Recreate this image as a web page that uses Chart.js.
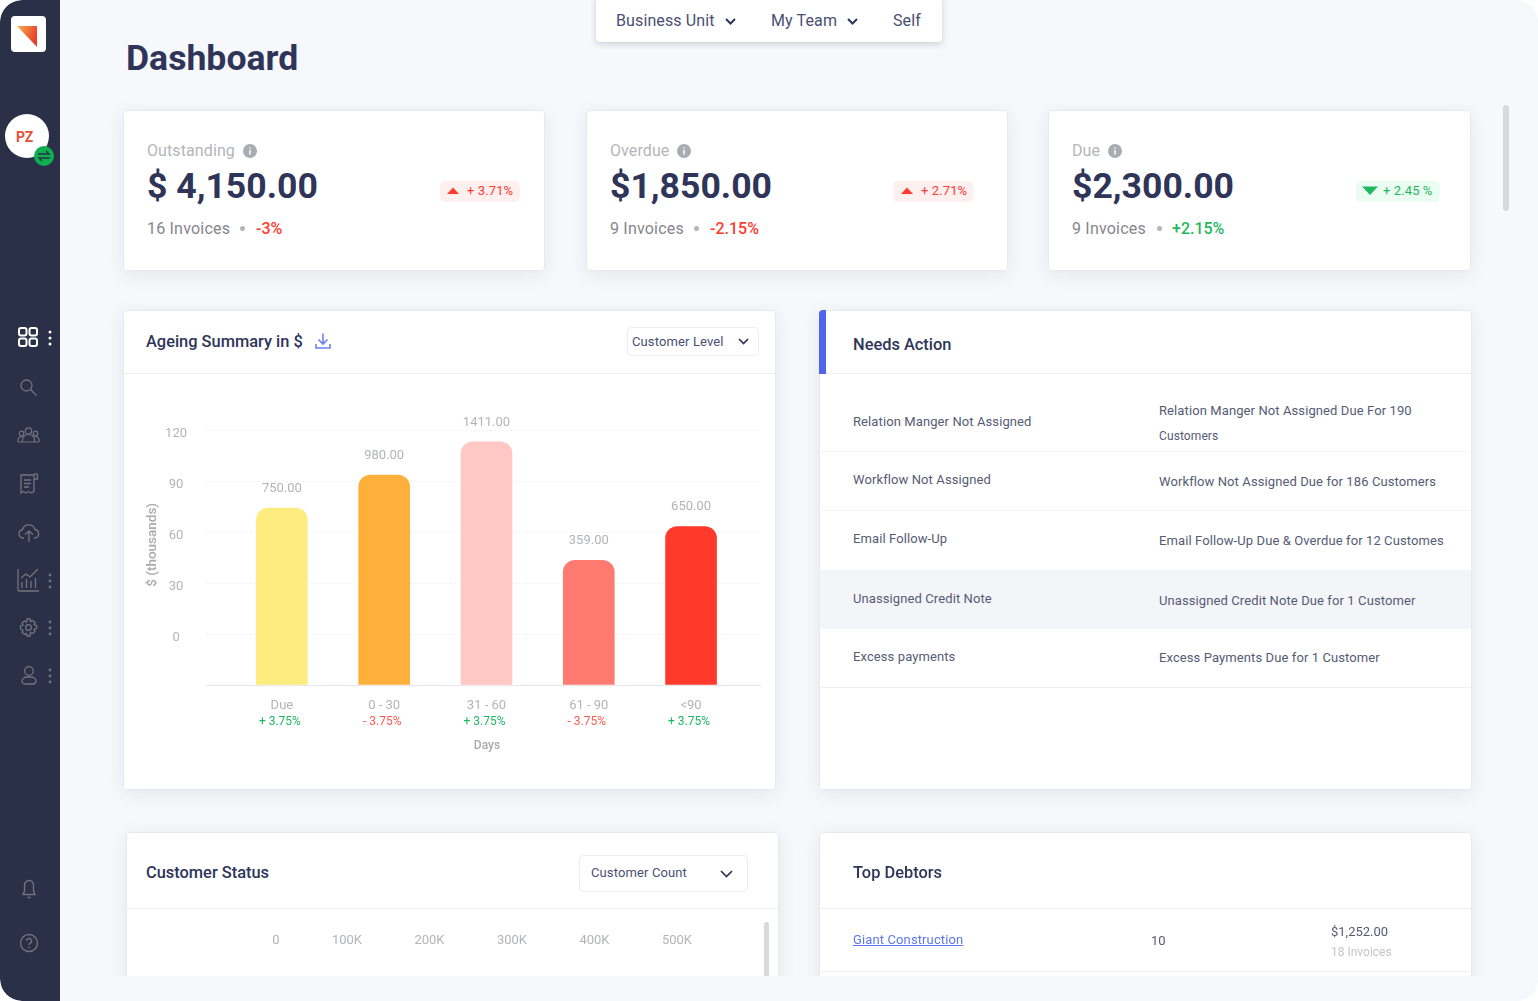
<!DOCTYPE html>
<html><head><meta charset="utf-8">
<script src="https://cdn.jsdelivr.net/npm/chart.js@4"></script>
<style>
html,body{margin:0;padding:0;background:#fff;overflow:hidden}
body{width:1538px;height:1001px;font-family:Roboto,sans-serif}
#page{position:absolute;left:0;top:0;width:1538px;height:1001px;background:#F7F8FB;border-radius:22px;overflow:hidden;filter:blur(.3px)}
#side{position:absolute;left:0;top:0;width:60px;height:1001px;background:#2A3047;border-radius:22px 0 0 22px;z-index:3}
#strip{position:absolute;left:60px;top:976px;width:1478px;height:25px;background:#F7F8FB;z-index:2}
.card{position:absolute;background:#fff;border-radius:4px;box-shadow:0 4px 18px rgba(50,55,90,.09);outline:1px solid #E8E9F0;outline-offset:-1px;overflow:hidden}
.t{position:absolute;white-space:nowrap;line-height:20px;margin-top:-10px}
.line{position:absolute;height:1px;background:#ECEDF2}
.h{font-weight:500;font-size:16.4px;color:#2E3559}
.big{font-weight:700;font-size:35.6px;color:#2E3559;line-height:40px;margin-top:-20px}
.lab{font-size:16px;color:#B4B5BA;letter-spacing:.1px}
.inv{font-size:16px;color:#85868C;letter-spacing:.2px}
.red{color:#FF3B30}.grn{color:#1FB860}
.pct{font-size:16px;font-weight:500}
.badge{position:absolute;height:21px;border-radius:5px}
.bt{font-size:13px;letter-spacing:.1px}
.dot{position:absolute;width:5px;height:5px;border-radius:50%;background:#B4B5BA}
.row{font-size:13px;color:#565B75;letter-spacing:.1px}
.sel{position:absolute;background:#fff;border:1px solid #ECEDF3;border-radius:4px;box-sizing:border-box}
.nav{font-size:16px;color:#4A4F72;letter-spacing:.12px}
svg{position:absolute;overflow:visible}
canvas{position:absolute;display:block}
</style></head>
<body>
<div id="page">
  <div id="strip"></div>

  <div class="t" style="left:126px;top:58px;font-size:35.6px;font-weight:700;color:#2E3559;line-height:40px;margin-top:-20px">Dashboard</div>

  <!-- top tabs -->
  <div style="position:absolute;left:596px;top:-4px;width:346px;height:46px;background:#fff;border-radius:4px;box-shadow:0 2px 6px rgba(50,55,90,.22)"></div>
  <div class="t nav" style="left:616px;top:21px">Business Unit</div>
  <svg style="left:725px;top:18px" width="11" height="7"><path d="M1 1l4.500 4.500L10 1" fill="none" stroke="#2E3559" stroke-width="2"/></svg>
  <div class="t nav" style="left:771px;top:21px">My Team</div>
  <svg style="left:847px;top:18px" width="11" height="7"><path d="M1 1l4.500 4.500L10 1" fill="none" stroke="#2E3559" stroke-width="2"/></svg>
  <div class="t nav" style="left:893px;top:21px">Self</div>

  <!-- scrollbar -->
  <div style="position:absolute;left:1503px;top:105px;width:6px;height:106px;border-radius:3px;background:#D8D9DC"></div>

  <!-- KPI cards -->
  <div class="card" style="left:123px;top:110px;width:422px;height:161px"></div>
  <div class="t lab" style="left:147px;top:151px">Outstanding</div>
  <svg style="left:243px;top:144px" width="14" height="14"><circle cx="7" cy="7" r="7" fill="#ABACB1"/><path d="M7 6v4.500M7 3.500v1.200" stroke="#fff" stroke-width="1.500"/></svg>
  <div class="t big" style="left:147px;top:186px">$ 4,150.00</div>
  <div class="badge" style="left:440px;top:181px;width:80px;background:#FFF0F0"></div>
  <svg style="left:447px;top:187px" width="12" height="8"><path d="M0 7L6 0.500 12 7z" fill="#FF3B30"/></svg>
  <div class="t bt red" style="left:467px;top:191px">+ 3.71%</div>
  <div class="t inv" style="left:147px;top:229px">16 Invoices</div>
  <div class="dot" style="left:240px;top:226px"></div>
  <div class="t pct red" style="left:256px;top:229px">-3%</div>

  <div class="card" style="left:586px;top:110px;width:422px;height:161px"></div>
  <div class="t lab" style="left:610px;top:151px">Overdue</div>
  <svg style="left:677px;top:144px" width="14" height="14"><circle cx="7" cy="7" r="7" fill="#ABACB1"/><path d="M7 6v4.500M7 3.500v1.200" stroke="#fff" stroke-width="1.500"/></svg>
  <div class="t big" style="left:610px;top:186px">$1,850.00</div>
  <div class="badge" style="left:893px;top:181px;width:80px;background:#FFF0F0"></div>
  <svg style="left:901px;top:187px" width="12" height="8"><path d="M0 7L6 0.500 12 7z" fill="#FF3B30"/></svg>
  <div class="t bt red" style="left:921px;top:191px">+ 2.71%</div>
  <div class="t inv" style="left:610px;top:229px">9 Invoices</div>
  <div class="dot" style="left:694px;top:226px"></div>
  <div class="t pct red" style="left:710px;top:229px">-2.15%</div>

  <div class="card" style="left:1048px;top:110px;width:423px;height:161px"></div>
  <div class="t lab" style="left:1072px;top:151px">Due</div>
  <svg style="left:1108px;top:144px" width="14" height="14"><circle cx="7" cy="7" r="7" fill="#ABACB1"/><path d="M7 6v4.500M7 3.500v1.200" stroke="#fff" stroke-width="1.500"/></svg>
  <div class="t big" style="left:1072px;top:186px">$2,300.00</div>
  <div class="badge" style="left:1356px;top:181px;width:84px;background:#EBFCF2"></div>
  <svg style="left:1362px;top:186px" width="16" height="9"><path d="M0 0.500H16L8 9z" fill="#1FB860"/></svg>
  <div class="t bt grn" style="left:1383px;top:191px">+ 2.45 %</div>
  <div class="t inv" style="left:1072px;top:229px">9 Invoices</div>
  <div class="dot" style="left:1157px;top:226px"></div>
  <div class="t pct grn" style="left:1172px;top:229px">+2.15%</div>

  <!-- Ageing card -->
  <div class="card" style="left:123px;top:310px;width:653px;height:480px"></div>
  <div class="t h" style="left:146px;top:342px">Ageing Summary in $</div>
  <svg style="left:315px;top:333px" width="16" height="16"><path d="M8 0.500v10M3.500 6.500L8 11l4.500-4.500M1 11v4h14v-4" fill="none" stroke="#6C83F0" stroke-width="1.600"/></svg>
  <div class="sel" style="left:627px;top:327px;width:132px;height:29px"></div>
  <div class="t" style="left:632px;top:342px;font-size:13px;letter-spacing:.12px;color:#4A4F72">Customer Level</div>
  <svg style="left:738px;top:338px" width="11" height="7"><path d="M1 1l4.500 4.500L10 1" fill="none" stroke="#2E3559" stroke-width="1.700"/></svg>
  <div class="line" style="left:124px;top:373px;width:651px"></div>
  <canvas id="ageing" width="650" height="410" style="left:124px;top:375px;width:650px;height:410px"></canvas>

  <!-- Needs Action -->
  <div class="card" style="left:819px;top:310px;width:653px;height:480px"></div>
  <div style="position:absolute;left:819px;top:310px;width:7px;height:64px;background:#4F66E8;border-radius:4px 0 0 0"></div>
  <div class="t h" style="left:853px;top:345px">Needs Action</div>
  <div class="line" style="left:826px;top:373px;width:646px"></div>
  <div style="position:absolute;left:820px;top:570px;width:651px;height:59px;background:#F4F5F9"></div>
  <div class="line" style="left:820px;top:451px;width:651px;background:#F5F5F8"></div>
  <div class="line" style="left:820px;top:510px;width:651px;background:#F5F5F8"></div>
  <div class="line" style="left:820px;top:687px;width:651px;background:#F0F0F4"></div>
  <div class="t row" style="left:853px;top:422px">Relation Manger Not Assigned</div>
  <div class="t row" style="left:853px;top:480px">Workflow Not Assigned</div>
  <div class="t row" style="left:853px;top:539px">Email Follow-Up</div>
  <div class="t row" style="left:853px;top:599px">Unassigned Credit Note</div>
  <div class="t row" style="left:853px;top:657px">Excess payments</div>
  <div class="t row" style="left:1159px;top:411px">Relation Manger Not Assigned Due For 190</div>
  <div class="t row" style="left:1159px;top:436px;font-size:12px">Customers</div>
  <div class="t row" style="left:1159px;top:482px">Workflow Not Assigned Due for 186 Customers</div>
  <div class="t row" style="left:1159px;top:541px">Email Follow-Up Due &amp; Overdue for 12 Customes</div>
  <div class="t row" style="left:1159px;top:601px">Unassigned Credit Note Due for 1 Customer</div>
  <div class="t row" style="left:1159px;top:658px">Excess Payments Due for 1 Customer</div>

  <!-- Customer Status -->
  <div class="card" style="left:126px;top:832px;width:653px;height:160px"></div>
  <div class="t h" style="left:146px;top:873px">Customer Status</div>
  <div class="sel" style="left:579px;top:855px;width:169px;height:37px"></div>
  <div class="t" style="left:591px;top:873px;font-size:13px;letter-spacing:.12px;color:#4A4F72">Customer Count</div>
  <svg style="left:720px;top:870px" width="13" height="8"><path d="M1 1l5.500 5.500L12 1" fill="none" stroke="#2E3559" stroke-width="1.700"/></svg>
  <div class="line" style="left:127px;top:908px;width:651px"></div>
  <canvas id="status" width="630" height="110" style="left:127px;top:916px;width:630px;height:110px"></canvas>
  <div style="position:absolute;left:764px;top:922px;width:5px;height:70px;border-radius:3px;background:#D8D9DC"></div>

  <!-- Top Debtors -->
  <div class="card" style="left:819px;top:832px;width:653px;height:160px"></div>
  <div class="t h" style="left:853px;top:873px">Top Debtors</div>
  <div class="line" style="left:820px;top:908px;width:651px"></div>
  <div class="t" style="left:853px;top:940px;font-size:13px;letter-spacing:.12px;color:#5B78F0;text-decoration:underline">Giant Construction</div>
  <div class="t" style="left:1151px;top:941px;font-size:13px;color:#565B75">10</div>
  <div class="t" style="left:1331px;top:932px;font-size:13px;color:#565B75">$1,252.00</div>
  <div class="t" style="left:1331px;top:952px;font-size:12px;color:#C5C6CB">18 Invoices</div>
  <div class="line" style="left:820px;top:971px;width:648px"></div>

  <!-- Sidebar -->
  <div id="side"></div>
  <div style="position:absolute;z-index:4;left:0;top:0;width:60px;height:1001px">
    <div style="position:absolute;left:11px;top:16px;width:35px;height:36px;background:#fff;border-radius:4px"></div>
    <svg style="left:17px;top:26px" width="20" height="21"><defs><linearGradient id="lg" x1="0" y1="0" x2="1" y2="0.400"><stop offset="0" stop-color="#F6B24A"/><stop offset="1" stop-color="#E8402C"/></linearGradient></defs><path d="M0 0H20V21z" fill="url(#lg)"/></svg>
    <div style="position:absolute;left:5px;top:114px;width:44px;height:44px;background:#fff;border-radius:50%"></div>
    <div class="t" style="left:16px;top:137px;font-size:14px;font-weight:700;color:#E8503A">PZ</div>
    <svg style="left:34px;top:146px" width="20" height="20"><circle cx="10" cy="10" r="10" fill="#11AE50"/><path d="M4 8h11l-3-3M16 12H5l3 3" fill="none" stroke="#2A3047" stroke-width="1.300"/></svg>
    <!-- nav icons -->
    <svg style="left:18px;top:327px" width="20" height="20" fill="none" stroke="#fff" stroke-width="2"><rect x="1" y="1" width="7.500" height="7.500" rx="2"/><rect x="11.500" y="1" width="7.500" height="7.500" rx="2"/><rect x="1" y="11.500" width="7.500" height="7.500" rx="2"/><rect x="11.500" y="11.500" width="7.500" height="7.500" rx="2"/></svg>
    <svg style="left:48px;top:330px" width="4" height="16" fill="#fff"><circle cx="2" cy="2" r="1.500"/><circle cx="2" cy="8" r="1.500"/><circle cx="2" cy="14" r="1.500"/></svg>
    <svg style="left:20px;top:379px" width="17" height="17" fill="none" stroke="#71757F" stroke-width="1.300"><circle cx="6.500" cy="6.500" r="5.500"/><path d="M10.500 10.500l6 6"/></svg>
    <svg style="left:17px;top:427px" width="23" height="16" fill="none" stroke="#71757F" stroke-width="1.200"><circle cx="11.500" cy="4" r="3.200"/><circle cx="4.500" cy="6.500" r="2.300"/><circle cx="18.500" cy="6.500" r="2.300"/><path d="M5.500 15v-2.500a6 5 0 0 1 12 0V15zM1 15v-2.500a3.500 3.500 0 0 1 4-3M22 15v-2.500a3.500 3.500 0 0 0-4-3M1 15h21"/></svg>
    <svg style="left:20px;top:474px" width="18" height="20" fill="none" stroke="#71757F" stroke-width="1.300"><path d="M14 1H1v18l2.500-1.500 2.500 1.500 2.500-1.500 2.500 1.500 3-1.500V1a1.800 1.800 0 0 1 3.500 0v4h-3.500"/><path d="M4 6h7M4 9.500h7M4 13h5"/></svg>
    <svg style="left:18px;top:523px" width="22" height="19" fill="none" stroke="#71757F" stroke-width="1.300"><path d="M6 15H5a4.300 4.300 0 0 1-.5-8.500 6.500 6.500 0 0 1 12.500 0A4.300 4.300 0 0 1 17 15h-1"/><path d="M11 19V8M7 11.500L11 8l4 3.500"/></svg>
    <svg style="left:17px;top:568px" width="23" height="24" fill="none" stroke="#71757F" stroke-width="1.300"><path d="M1 1v21a1 1 0 0 0 1 1h20"/><path d="M5 20v-6M9.500 20v-9M14 20v-7M18.500 20V10M4 10l5-4 4 3 8-8"/></svg>
    <svg style="left:48px;top:573px" width="4" height="16" fill="#71757F"><circle cx="2" cy="2" r="1.400"/><circle cx="2" cy="8" r="1.400"/><circle cx="2" cy="14" r="1.400"/></svg>
    <svg style="left:19px;top:618px" width="19" height="19" fill="none" stroke="#71757F" stroke-width="1.300"><path d="M8 1h3l.5 2.500 2-1 2.500 2-1 2 2.500 1v3l-2.500 1 1 2-2.500 2-2-1L11 18H8l-.5-2.500-2 1-2.500-2 1-2L1.500 11V8L4 7 3 5l2.500-2 2 1z"/><circle cx="9.500" cy="9.500" r="2.800"/></svg>
    <svg style="left:48px;top:620px" width="4" height="16" fill="#71757F"><circle cx="2" cy="2" r="1.400"/><circle cx="2" cy="8" r="1.400"/><circle cx="2" cy="14" r="1.400"/></svg>
    <svg style="left:21px;top:666px" width="16" height="19" fill="none" stroke="#71757F" stroke-width="1.300"><circle cx="8" cy="5" r="4.300"/><path d="M1 15a5 4 0 0 1 5-4h4a5 4 0 0 1 5 4 3 3 0 0 1-3 3H4a3 3 0 0 1-3-3z"/></svg>
    <svg style="left:48px;top:668px" width="4" height="16" fill="#71757F"><circle cx="2" cy="2" r="1.400"/><circle cx="2" cy="8" r="1.400"/><circle cx="2" cy="14" r="1.400"/></svg>
    <svg style="left:22px;top:879px" width="14" height="20" fill="none" stroke="#71757F" stroke-width="1.400"><path d="M7 1.500a4.500 4.500 0 0 0-4.500 4.500v6L1 15.500h12L11.500 12V6A4.500 4.500 0 0 0 7 1.500zM5.500 18.500h3"/></svg>
    <svg style="left:20px;top:934px" width="18" height="18" fill="none" stroke="#71757F" stroke-width="1.300"><circle cx="9" cy="9" r="8.500"/><path d="M6.500 7a2.500 2.500 0 1 1 3.500 2.300c-.7.300-1 .8-1 1.700M9 12.800v1.400"/></svg>
  </div>
</div>

<script>
const categories   = ['Due', '0 - 30', '31 - 60', '61 - 90', '<90'];
const barHeights   = [74.3, 93.8, 113.4, 43.5, 63.5];
const valueLabels  = ['750.00', '980.00', '1411.00', '359.00', '650.00'];
const deltaLabels  = ['+ 3.75%', '- 3.75%', '+ 3.75%', '- 3.75%', '+ 3.75%'];
const deltaColors  = ['#1FB860', '#FF5A50', '#1FB860', '#FF5A50', '#1FB860'];
const barColors    = ['#FFEC80', '#FFB03A', '#FFC8C4', '#FF7A70', '#FF392B'];
const yTickValues  = [-30, 0, 30, 60, 90, 120];
const statusTicks  = [0, 100000, 200000, 300000, 400000, 500000];

const GREY = '#B3B4B8';

function nudgeTitle(scale, dx, dy) {
  const orig = scale.drawTitle;
  scale.drawTitle = function () {
    const c = this.ctx;
    c.save();
    c.translate(dx, dy);
    orig.call(this);
    c.restore();
  };
}

const barLabels = {
  id: 'barLabels',
  afterLayout(chart) {
    nudgeTitle(chart.scales.y, 0, -13);
    nudgeTitle(chart.scales.x, 4, 0);
  },
  afterDatasetsDraw(chart) {
    const { ctx, scales } = chart;
    const meta = chart.getDatasetMeta(0);
    ctx.save();
    ctx.textAlign = 'center';
    ctx.textBaseline = 'middle';
    meta.data.forEach((bar, i) => {
      ctx.font = '13px Roboto';
      ctx.fillStyle = GREY;
      ctx.fillText(valueLabels[i], bar.x, bar.y - 19.5);
      ctx.font = '12px Roboto';
      ctx.fillStyle = deltaColors[i];
      ctx.fillText(deltaLabels[i], scales.x.getPixelForValue(i) - 2, scales.y.bottom + 36.5);
    });
    ctx.restore();
  }
};

new Chart(document.getElementById('ageing'), {
  type: 'bar',
  data: {
    labels: categories,
    datasets: [{
      data: categories.map((c, i) => ({ x: i, y: barHeights[i] })),
      backgroundColor: barColors,
      base: -30,
      barThickness: 51,
      borderRadius: { topLeft: 12, topRight: 12, bottomLeft: 0, bottomRight: 0 },
      borderSkipped: false
    }]
  },
  plugins: [barLabels],
  options: {
    responsive: false,
    animation: false,
    layout: { padding: { left: 20.5, right: 14, top: 55.7, bottom: 32 } },
    plugins: { legend: { display: false }, tooltip: { enabled: false } },
    scales: {
      x: {
        type: 'linear',
        offset: false,
        min: -0.742,
        max: 4.674,
        afterBuildTicks(s) { s.ticks = categories.map((c, i) => ({ value: i })); },
        afterFit(s) { s.height = 68; },
        grid: { display: false },
        border: { color: '#E6E6EC' },
        ticks: {
          autoSkip: false, maxRotation: 0, padding: 5,
          color: GREY, font: { family: 'Roboto', size: 13 },
          callback: v => categories[v]
        },
        title: { display: true, text: 'Days', color: '#A8A9AE', font: { family: 'Roboto', size: 12, weight: '500' }, padding: { top: 0, bottom: 0 } }
      },
      y: {
        min: -30,
        max: 120,
        afterBuildTicks(s) { s.ticks = yTickValues.map(v => ({ value: v })); },
        afterFit(s) { s.width = 61.5; },
        grid: {
          drawTicks: false,
          color: c => c.tick && c.tick.value === -30 ? 'rgba(0,0,0,0)' : '#F1F1F4'
        },
        border: { display: false, dash: [2, 2] },
        ticks: {
          padding: 19, crossAlign: 'center', labelOffset: 3.500,
          color: GREY, font: { family: 'Roboto', size: 13 },
          callback: v => v === -30 ? '' : String(v)
        },
        title: { display: true, text: '$ (thousands)', color: '#A8A9AE', font: { family: 'Roboto', size: 13.5, weight: '500' }, padding: 0 }
      }
    }
  }
});

const fmtK = v => v === 0 ? '0' : (v / 1000) + 'K';
new Chart(document.getElementById('status'), {
  type: 'bar',
  data: { labels: [], datasets: [] },
  options: {
    responsive: false,
    animation: false,
    layout: { padding: { left: 152.5, right: 630 - 565, top: 17, bottom: 0 } },
    plugins: { legend: { display: false }, tooltip: { enabled: false } },
    scales: {
      x: {
        type: 'linear', offset: false, position: 'top', min: 0, max: 500000,
        afterBuildTicks(s) { s.ticks = statusTicks.map(v => ({ value: v })); },
        grid: { display: false }, border: { display: false },
        ticks: { autoSkip: false, maxRotation: 0, align: 'end', padding: 0, color: GREY, font: { family: 'Roboto', size: 13 }, callback: fmtK }
      },
      y: { display: false }
    }
  }
});
</script>
</body></html>
